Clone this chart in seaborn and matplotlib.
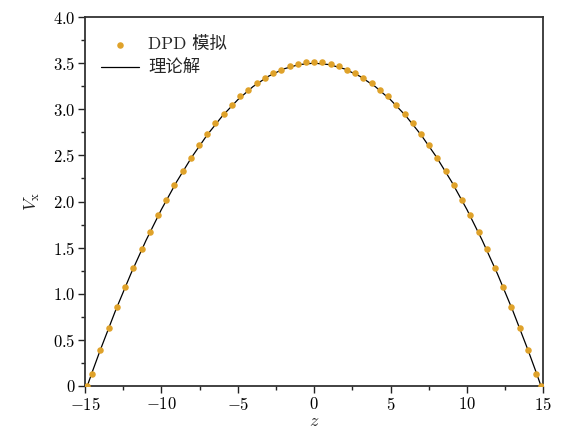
import seaborn as sns
import matplotlib.pyplot as plt
import pandas as pd
from matplotlib.ticker import MultipleLocator, FuncFormatter

# DPD simulation points
z_dpd = [-14.84, -14.52, -13.99, -13.45, -12.91, -12.37, -11.84, -11.30, -10.76,
         -10.22, -9.68, -9.15, -8.61, -8.07, -7.53, -6.99, -6.46, -5.92, -5.38,
         -4.84, -4.30, -3.77, -3.23, -2.69, -2.15, -1.61, -1.08, -0.54, 0.0,
         0.54, 1.08, 1.61, 2.15, 2.69, 3.23, 3.77, 4.30, 4.84, 5.38, 5.92, 6.46,
         6.99, 7.53, 8.07, 8.61, 9.15, 9.68, 10.22, 10.76, 11.30, 11.84, 12.37,
         12.91, 13.45, 13.99, 14.52, 14.84]
v_dpd = [0.0, 0.13, 0.39, 0.63, 0.86, 1.07, 1.28, 1.48, 1.67,
         1.85, 2.02, 2.18, 2.33, 2.47, 2.61, 2.73, 2.85, 2.95, 3.05,
         3.14, 3.21, 3.28, 3.34, 3.39, 3.43, 3.47, 3.49, 3.51, 3.51,
         3.51, 3.49, 3.47, 3.43, 3.39, 3.34, 3.28, 3.21, 3.14, 3.05, 2.95, 2.85,
         2.73, 2.61, 2.47, 2.33, 2.18, 2.02, 1.85, 1.67, 1.48, 1.28, 1.07,
         0.86, 0.63, 0.39, 0.13, 0.0]

# theoretical solution
z_th = [-14.85, -14.5, -14, -13, -12, -11, -10, -9, -8, -7, -6, -5, -4, -3, -2, -1, 0,
        1, 2, 3, 4, 5, 6, 7, 8, 9, 10, 11, 12, 13, 14, 14.5, 14.85]
v_th = [0.0, 0.163, 0.389, 0.818, 1.215, 1.580, 1.913, 2.214, 2.484, 2.722, 2.929,
        3.103, 3.246, 3.357, 3.437, 3.484, 3.5,
        3.484, 3.437, 3.357, 3.246, 3.103, 2.929, 2.722, 2.484, 2.214, 1.913,
        1.580, 1.215, 0.818, 0.389, 0.163, 0.0]

xticks = [-15, -10, -5, 0, 5, 10, 15]
yticks = [0, 0.5, 1.0, 1.5, 2.0, 2.5, 3.0, 3.5, 4.0]

sns.set_style('ticks')
plt.rcParams['font.family'] = ['cmr10', 'Noto Sans CJK SC', 'DejaVu Serif']
plt.rcParams['mathtext.fontset'] = 'cm'
plt.rcParams['axes.formatter.use_mathtext'] = True

df_dpd = pd.DataFrame({'z': z_dpd, 'v': v_dpd})
df_th = pd.DataFrame({'z': z_th, 'v': v_th})

fig = plt.figure(figsize=(5.65, 4.32), dpi=100)
ax = fig.add_axes([0.1504, 0.1065, 0.8112, 0.8541])

sns.scatterplot(data=df_dpd, x='z', y='v', ax=ax, color='#dfa22a', s=22,
                linewidth=0, label='DPD 模拟', zorder=3)
sns.lineplot(data=df_th, x='z', y='v', ax=ax, color='black', linewidth=0.9,
             sort=False, label='理论解', zorder=2)

ax.set_xlim(-15, 15)
ax.set_ylim(0, 4.0)
ax.set_xticks(xticks)
ax.set_yticks(yticks)
ax.xaxis.set_minor_locator(MultipleLocator(2.5))
ax.yaxis.set_minor_locator(MultipleLocator(0.25))
ax.xaxis.set_major_formatter(FuncFormatter(lambda v, p: r'$%d$' % v))
ax.yaxis.set_major_formatter(FuncFormatter(lambda v, p: r'$0$' if v == 0 else r'$%.1f$' % v))
ax.tick_params(which='major', length=5, width=1.0, labelsize=12, pad=2,
               colors='#222222', labelcolor='black')
ax.tick_params(which='minor', length=3, width=1.0, colors='#222222')

for sp in ax.spines.values():
    sp.set_linewidth(1.3)
    sp.set_color('#333333')

ax.set_xlabel(r'$z$', fontsize=13, labelpad=1)
ax.set_ylabel(r'$V_{\mathrm{x}}$', fontsize=13, labelpad=8)

ax.legend(loc='upper left', frameon=False, fontsize=12.5, handlelength=2.2,
          handletextpad=0.5, borderaxespad=0.4, labelspacing=0.45,
          bbox_to_anchor=(0.005, 0.985))

plt.savefig('out.png', dpi=100)
